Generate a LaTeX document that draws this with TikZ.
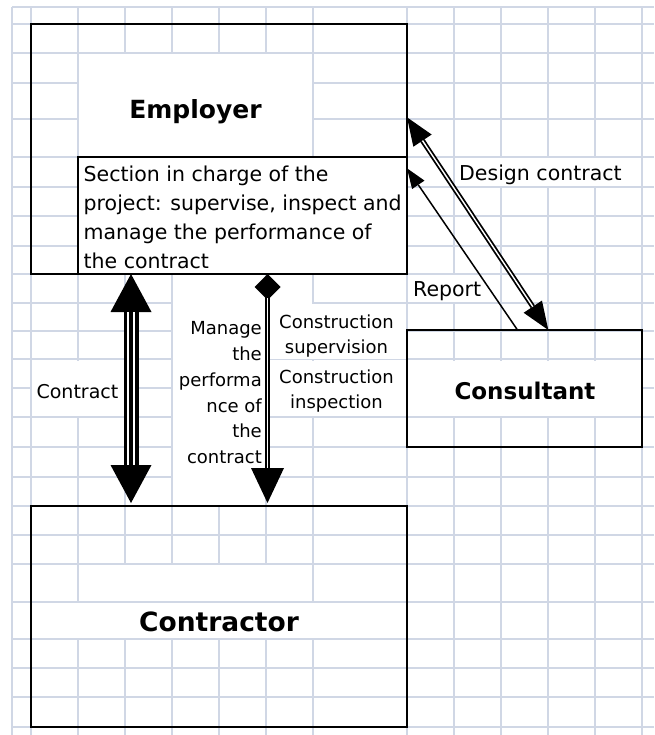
\documentclass[tikz,border=0pt]{standalone}
\usepackage{fontspec}
\setmainfont{DejaVu Sans}
\usetikzlibrary{arrows.meta, positioning, calc}

\definecolor{gridblue}{RGB}{208,215,229}

\begin{document}
\begin{tikzpicture}[x=1pt, y=-1pt,
    box/.style={draw=black, line width=2pt, inner sep=0pt, outer sep=0pt, anchor=north west},
    title/.style={inner sep=0pt, anchor=base, font=\bfseries\fontsize{25}{30}\selectfont},
    txt/.style={inner sep=0pt, font=\fontsize{20.5}{28.9}\selectfont},
    small/.style={inner sep=0pt, font=\fontsize{18}{25.8}\selectfont}]

\useasboundingbox (0,0) rectangle (654,735);
\fill[white] (0,0) rectangle (654,735);

% --- Sheet gridlines ---
\foreach \y in {7,24,53,83,119,157,187,216,246,274,303,331,359,388,417,447,477,506,535,564,602,639,668,697,727}
    \draw[gridblue, line width=1.6pt] (12,\y) -- (654,\y);
\foreach \x in {12,31,78,125,172,219,266,313,407,454,501,548,595,642}
    \draw[gridblue, line width=1.6pt] (\x,7) -- (\x,735);

% merged cells and overflowing text hide the lines below them
\foreach \xa/\ya/\xb/\yb in {78/53/313/157, 454/157/642/187, 407/274/501/303,
        31/360/125/417, 172/274/266/506, 266/274/313/360, 266/303/407/360,
        266/360/407/417, 407/360/642/417, 78/564/313/602, 31/602/407/639}
    \fill[white] (\xa+0.9,\ya+0.9) rectangle (\xb-0.9,\yb-0.9);

% --- Boxes ---
\node[box, minimum width=376pt, minimum height=250pt] (emp) at (31,24) {};
\node[box, fill=white, minimum width=329pt, minimum height=117pt] (sect) at (78,157) {};
\node[box, minimum width=235pt, minimum height=117pt] (cons) at (407,330) {};
\node[box, minimum width=376pt, minimum height=221pt] (ctr) at (31,506) {};

\node[title] (empname) at (195.5,118.3) {Employer};
\node[title, font=\bfseries\fontsize{23}{28}\selectfont] (consname) at (525,399.5) {Consultant};
\node[title, font=\bfseries\fontsize{26.5}{32}\selectfont] (ctrname) at (219,631) {Contractor};

\node[txt, anchor=north west, align=left] (secttxt) at (83.5,166)
    {Section in charge of the\\project: supervise, inspect and\\manage the performance of\\the contract};

% --- Employer <-> Contractor ---
\draw[line width=15pt, {Triangle[length=38pt, width=41pt, line width=0pt]}-{Triangle[length=38pt, width=41pt, line width=0pt]}, shorten >=3pt]
    ([xshift=100pt]emp.south west) -- ([xshift=100pt]ctr.north west);
\foreach \dx in {97.2,103.2}
    \draw[white, line width=1.6pt, shorten <=38pt, shorten >=41pt]
        ([xshift=\dx pt]emp.south west) -- ([xshift=\dx pt]ctr.north west);
\node[small, font=\fontsize{19}{24}\selectfont, anchor=base east] (contractlbl) at (118.5,398.3) {Contract};

\draw[line width=5.5pt, {Diamond[length=26pt, width=26pt, line width=0pt]}-{Triangle[length=35pt, width=33pt, line width=0pt]}, shorten >=3pt]
    ([xshift=236.5pt]emp.south west) -- ([xshift=236.5pt]ctr.north west);
\draw[white, line width=1.4pt, shorten <=24pt, shorten >=38pt]
    ([xshift=236.5pt]emp.south west) -- ([xshift=236.5pt]ctr.north west);
\node[small, anchor=north east, align=right] (managelbl) at (262,321.3)
    {Manage\\the\\performa\\nce of\\the\\contract};
\node[small, anchor=north, align=center, font=\fontsize{18}{25}\selectfont] (suplbl) at (336.5,314.7) {Construction\\supervision};
\node[small, anchor=north, align=center, font=\fontsize{18}{25}\selectfont] (insplbl) at (336.5,369.7) {Construction\\inspection};

% --- Employer <-> Consultant ---
\draw[line width=5pt, {Triangle[length=28pt, width=22pt, line width=0pt]}-{Triangle[length=28pt, width=22pt, line width=0pt]}]
    ([yshift=-93.3pt]emp.north east) -- ([xshift=141.3pt]cons.north west);
\draw[white, line width=1.4pt, shorten <=28pt, shorten >=28pt]
    ([yshift=-93.3pt]emp.north east) -- ([xshift=141.3pt]cons.north west);
\node[txt, anchor=base west] (designlbl) at (459,180.5) {Design contract};

\draw[line width=1.5pt, -{Triangle[length=20pt, width=15pt, line width=0pt]}]
    ([xshift=110.5pt]cons.north west) -- ([yshift=-11.3pt]sect.north east);
\node[txt, anchor=base west] (reportlbl) at (413,296.5) {Report};

\end{tikzpicture}
\end{document}
